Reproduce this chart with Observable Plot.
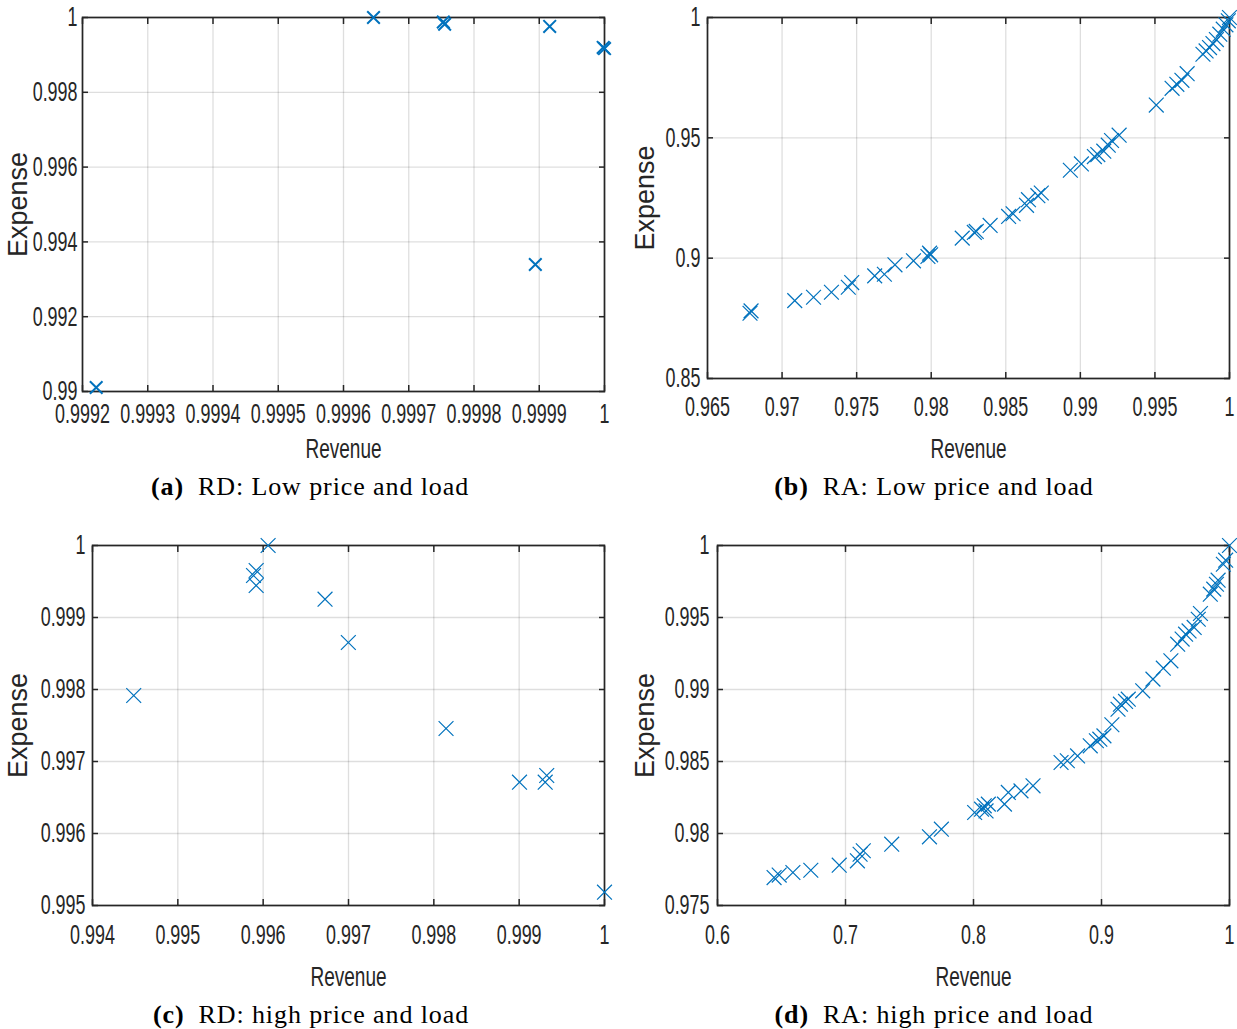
<!DOCTYPE html>
<html>
<head>
<meta charset="utf-8">
<script src="https://cdn.jsdelivr.net/npm/d3@7"></script>
<script src="https://cdn.jsdelivr.net/npm/@observablehq/plot@0.6"></script>
<style>
  html, body { margin: 0; padding: 0; background: #fff; }
  #root { position: relative; width: 1237px; height: 1029px; overflow: hidden; background: #fff; }
  .panel { position: absolute; }
  .cap { position: absolute; font-family: "Liberation Serif", "DejaVu Serif", serif; font-size: 26px; letter-spacing: 0.9px; color: #000; white-space: nowrap; transform: translateX(-50%); }
  .cap b { margin-right: 14px; }
</style>
</head>
<body>
<div id="root"></div>
<script>
// ---------- Data ----------
// (a) RD: Low price and load
const aRevenue = [0.999221, 0.999646, 0.999753, 0.999755, 0.999916, 0.999894, 1.0, 0.999998];
const aExpense = [0.990107, 1.0, 0.99988, 0.99982, 0.99976, 0.993396, 0.99917, 0.99920];
const aXTicks = [0.9992, 0.9993, 0.9994, 0.9995, 0.9996, 0.9997, 0.9998, 0.9999, 1];
const aYTicks = [0.99, 0.992, 0.994, 0.996, 0.998, 1];

// (b) RA: Low price and load
const bRevenue = [0.96785, 0.96792, 0.97085, 0.97211, 0.97331, 0.97444, 0.97467, 0.97621, 0.97686,
  0.97757, 0.97881, 0.97978, 0.97989, 0.97996, 0.98208, 0.98289, 0.98302, 0.98395, 0.98519, 0.98549,
  0.98639, 0.98652, 0.98715, 0.98738, 0.98933, 0.99007, 0.99094, 0.99117, 0.99157, 0.99187, 0.99209,
  0.99260, 0.99509, 0.99615, 0.99647, 0.99681, 0.99716, 0.99822, 0.99843, 0.99866, 0.99889, 0.99912,
  0.99935, 0.99958, 0.99976, 0.99992, 1.0];
const bExpense = [0.8771, 0.8781, 0.88236, 0.88375, 0.88583, 0.88792, 0.88986, 0.89264, 0.89333,
  0.89722, 0.89889, 0.90069, 0.90208, 0.90139, 0.90833, 0.91069, 0.91111, 0.91361, 0.91736, 0.91847,
  0.92194, 0.92431, 0.92597, 0.92708, 0.93653, 0.93917, 0.94222, 0.94306, 0.94444, 0.94694, 0.94889,
  0.95111, 0.96361, 0.97056, 0.97222, 0.97389, 0.97667, 0.98472, 0.98611, 0.9875, 0.98917, 0.99083,
  0.99306, 0.99514, 0.99694, 0.99861, 1.0];
const bXTicks = [0.965, 0.97, 0.975, 0.98, 0.985, 0.99, 0.995, 1];
const bYTicks = [0.85, 0.9, 0.95, 1];

// (c) RD: high price and load
const cRevenue = [0.994483, 0.995887, 0.995918, 0.995918, 0.996058, 0.996725, 0.996998, 0.998143, 0.999004, 0.999305, 0.999323, 1.0];
const cExpense = [0.997917, 0.999583, 0.999653, 0.999444, 1.0, 0.999254, 0.998653, 0.997458, 0.996713, 0.996713, 0.996806, 0.995185];
const cXTicks = [0.994, 0.995, 0.996, 0.997, 0.998, 0.999, 1];
const cYTicks = [0.995, 0.996, 0.997, 0.998, 0.999, 1];

// (d) RA: high price and load
const dRevenue = [0.6442, 0.6482, 0.6589, 0.6729, 0.6951, 0.7093, 0.7114, 0.7139, 0.7361, 0.7656, 0.7749,
  0.8009, 0.8063, 0.8084, 0.8098, 0.8116, 0.8242, 0.8272, 0.8371, 0.8465, 0.8684, 0.8733, 0.8813, 0.8912,
  0.8960, 0.8987, 0.9019, 0.9081, 0.9129, 0.9148, 0.9188, 0.9209, 0.9322, 0.9402, 0.9483, 0.9542,
  0.9595, 0.9630, 0.9657, 0.9684, 0.9724, 0.9756, 0.9773, 0.9850, 0.9877, 0.9898, 0.9911, 0.9952, 0.9970, 1.0];
const dExpense = [0.97694, 0.97711, 0.97729, 0.97745, 0.97780, 0.97810, 0.97856, 0.97880, 0.97926, 0.97977, 0.98030,
  0.98146, 0.98169, 0.98192, 0.98157, 0.98204, 0.98204, 0.98285, 0.98296, 0.98331, 0.98493, 0.98505, 0.98539, 0.98609,
  0.98644, 0.98655, 0.98678, 0.98755, 0.98863, 0.98898, 0.98917, 0.98933, 0.98991, 0.99072, 0.99148, 0.99199,
  0.99315, 0.99350, 0.99384, 0.99407, 0.99431, 0.99488, 0.99528, 0.99662, 0.99697, 0.99731, 0.99759, 0.99870, 0.99898, 1.0];
const dXTicks = [0.6, 0.7, 0.8, 0.9, 1];
const dYTicks = [0.975, 0.98, 0.985, 0.99, 0.995, 1];

const captions = [
  ["(a)", "RD: Low price and load"],
  ["(b)", "RA: Low price and load"],
  ["(c)", "RD: high price and load"],
  ["(d)", "RA: high price and load"]
];

// ---------- Drawing ----------
const BLUE = "#0072BD";
const AX = "#262626";
const fmt = v => String(+v.toPrecision(6));

function panel(opts) {
  const {rev, exp, xTicks, yTicks, xDomain, yDomain, left, top, width, height, margins, markR, markW, ylabDx, xlabDy, xPad, yPad} = opts;
  const data = rev.map((r, i) => ({r, e: exp[i]}));
  const svg = Plot.plot({
    width, height,
    marginLeft: margins[0], marginRight: margins[1], marginTop: margins[2], marginBottom: margins[3],
    style: {fontFamily: "Liberation Sans, Arial, sans-serif", fontSize: "28px", color: AX, background: "transparent", overflow: "visible"},
    x: {domain: xDomain, label: null},
    y: {domain: yDomain, label: null},
    marks: [
      Plot.gridX(xTicks, {stroke: "#000", strokeOpacity: 0.13, strokeWidth: 1.3}),
      Plot.gridY(yTicks, {stroke: "#000", strokeOpacity: 0.13, strokeWidth: 1.3}),
      Plot.axisX(xTicks, {anchor: "bottom", tickSize: -6, text: null, label: null, stroke: AX, strokeWidth: 1.5}),
      Plot.axisX(xTicks, {anchor: "top", tickSize: -6, text: null, label: null, stroke: AX, strokeWidth: 1.5}),
      Plot.axisY(yTicks, {anchor: "left", tickSize: -6, text: null, label: null, stroke: AX, strokeWidth: 1.5}),
      Plot.axisY(yTicks, {anchor: "right", tickSize: -6, text: null, label: null, stroke: AX, strokeWidth: 1.5}),
      Plot.axisX(xTicks, {anchor: "bottom", tickSize: 0, tickPadding: xPad, tickFormat: fmt, label: null, fill: AX, fontSize: 28}),
      Plot.axisY(yTicks, {anchor: "left", tickSize: 0, tickPadding: yPad, tickFormat: fmt, label: null, fill: AX, fontSize: 28}),
      Plot.frame({stroke: AX, strokeWidth: 1.7}),
      Plot.text(["Revenue"], {frameAnchor: "bottom", dy: xlabDy, textAnchor: "middle", lineAnchor: "middle", fill: AX, fontSize: 28}),
      Plot.text(["Expense"], {frameAnchor: "left", dx: ylabDx, rotate: -90, textAnchor: "middle", lineAnchor: "middle", fill: AX, fontSize: 27}),
      Plot.dot(data, {x: "r", y: "e", symbol: "times", r: markR, stroke: BLUE, strokeWidth: markW, clip: false})
    ]
  });
  // condense the tick labels and x label (narrow sans as in the original export)
  d3.select(svg).selectAll("g[aria-label='x-axis tick label'] text, g[aria-label='y-axis tick label'] text")
    .each(function() {
      const t = this.getAttribute("transform") || "";
      this.setAttribute("transform", t + " scale(0.64,1)");
    });
  d3.select(svg).selectAll("text")
    .filter(function() { return this.textContent === "Revenue"; })
    .each(function() {
      const t = this.getAttribute("transform") || "";
      this.setAttribute("transform", t + " scale(0.68,1)");
    });
  const div = document.createElement("div");
  div.className = "panel";
  div.style.left = left + "px";
  div.style.top = top + "px";
  div.appendChild(svg);
  document.getElementById("root").appendChild(div);
}

function caption(i, cx, y) {
  const d = document.createElement("div");
  d.className = "cap";
  d.style.left = cx + "px";
  d.style.top = y + "px";
  const b = document.createElement("b");
  b.textContent = captions[i][0];
  d.appendChild(b);
  d.appendChild(document.createTextNode(captions[i][1]));
  document.getElementById("root").appendChild(d);
}

panel({rev: aRevenue, exp: aExpense, xTicks: aXTicks, yTicks: aYTicks, xDomain: [0.9992, 1], yDomain: [0.99, 1],
  left: 0, top: 0, width: 618, height: 470, margins: [82, 14, 17, 79], markR: 5.8, markW: 2, ylabDx: -64, xlabDy: 58, xPad: 12, yPad: 5});
panel({rev: bRevenue, exp: bExpense, xTicks: bXTicks, yTicks: bYTicks, xDomain: [0.965, 1], yDomain: [0.85, 1],
  left: 618, top: 0, width: 619, height: 470, margins: [89, 8, 17, 92], markR: 6.8, markW: 1.2, ylabDx: -62, xlabDy: 71, xPad: 18, yPad: 7});
panel({rev: cRevenue, exp: cExpense, xTicks: cXTicks, yTicks: cYTicks, xDomain: [0.994, 1], yDomain: [0.995, 1],
  left: 0, top: 520, width: 618, height: 480, margins: [92, 14, 25, 95], markR: 6.8, markW: 1.2, ylabDx: -74, xlabDy: 72, xPad: 19, yPad: 7});
panel({rev: dRevenue, exp: dExpense, xTicks: dXTicks, yTicks: dYTicks, xDomain: [0.6, 1], yDomain: [0.975, 1],
  left: 618, top: 520, width: 619, height: 480, margins: [99, 8, 25, 95], markR: 6.8, markW: 1.2, ylabDx: -72, xlabDy: 72, xPad: 19, yPad: 8});

caption(0, 310, 472);
caption(1, 934, 472);
caption(2, 311, 1000);
caption(3, 934, 1000);
</script>
</body>
</html>
